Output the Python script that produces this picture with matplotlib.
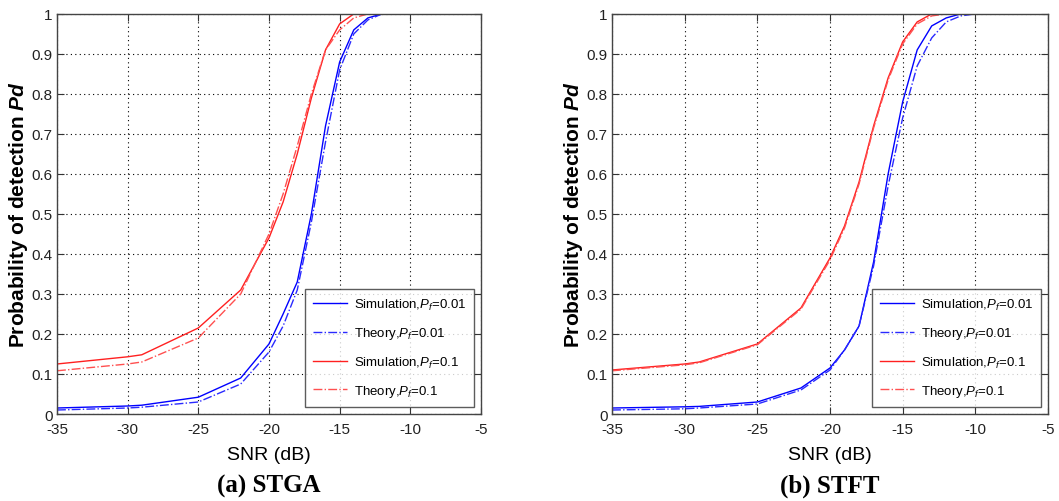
import numpy as np
import matplotlib
matplotlib.use("Agg")
import matplotlib.pyplot as plt

# (a) STGA
snr_a = [-35, -30, -29, -25, -22, -20, -19, -18, -17, -16, -15, -14, -13, -12, -5]
sim01_a = [0.015, 0.02, 0.022, 0.042, 0.09, 0.175, 0.25, 0.33, 0.50, 0.72, 0.88, 0.96, 0.99, 1.0, 1.0]
thy01_a = [0.01, 0.015, 0.017, 0.03, 0.075, 0.155, 0.22, 0.31, 0.48, 0.68, 0.86, 0.95, 0.985, 1.0, 1.0]
sim1_a = [0.125, 0.143, 0.148, 0.215, 0.31, 0.44, 0.53, 0.65, 0.79, 0.91, 0.975, 1.0, 1.0, 1.0, 1.0]
thy1_a = [0.108, 0.125, 0.13, 0.19, 0.30, 0.45, 0.55, 0.67, 0.80, 0.91, 0.96, 0.99, 1.0, 1.0, 1.0]

# (b) STFT
snr_b = [-35, -30, -29, -25, -22, -20, -19, -18, -17, -16, -15, -14, -13, -12, -11, -10, -5]
sim01_b = [0.015, 0.018, 0.019, 0.03, 0.065, 0.115, 0.16, 0.22, 0.38, 0.60, 0.78, 0.91, 0.97, 0.99, 1.0, 1.0, 1.0]
thy01_b = [0.01, 0.013, 0.015, 0.025, 0.06, 0.11, 0.16, 0.22, 0.37, 0.57, 0.74, 0.87, 0.94, 0.98, 0.995, 1.0, 1.0]
sim1_b = [0.11, 0.125, 0.13, 0.175, 0.265, 0.39, 0.47, 0.58, 0.72, 0.84, 0.93, 0.98, 1.0, 1.0, 1.0, 1.0, 1.0]
thy1_b = [0.108, 0.123, 0.128, 0.173, 0.262, 0.385, 0.465, 0.575, 0.715, 0.835, 0.925, 0.975, 0.995, 1.0, 1.0, 1.0, 1.0]

xticks = [-35, -30, -25, -20, -15, -10, -5]
yticks = [0, 0.1, 0.2, 0.3, 0.4, 0.5, 0.6, 0.7, 0.8, 0.9, 1]
ytick_labels = ["0", "0.1", "0.2", "0.3", "0.4", "0.5", "0.6", "0.7", "0.8", "0.9", "1"]
labels = ["Simulation,$P_f$=0.01", "Theory,$P_f$=0.01",
          "Simulation,$P_f$=0.1", "Theory,$P_f$=0.1"]
captions = ["(a) STGA", "(b) STFT"]

plt.rcParams['font.family'] = ['Liberation Sans', 'DejaVu Sans']
plt.rcParams['axes.unicode_minus'] = False
plt.rcParams['mathtext.fontset'] = 'custom'
plt.rcParams['mathtext.it'] = 'Liberation Sans:italic'
plt.rcParams['mathtext.rm'] = 'Liberation Sans'
plt.rcParams['mathtext.bf'] = 'Liberation Sans:bold:italic'

fig = plt.figure(figsize=(10.59, 5.02), dpi=100)
ax_a = fig.add_axes([0.0538, 0.1733, 0.4004, 0.797])
ax_b = fig.add_axes([0.5779, 0.1733, 0.4117, 0.797])

panels = [
    (ax_a, snr_a, sim01_a, thy01_a, sim1_a, thy1_a),
    (ax_b, snr_b, sim01_b, thy01_b, sim1_b, thy1_b),
]

for i, (ax, x, s01, t01, s1, t1) in enumerate(panels):
    ax.plot(x, s01, color='#0000ff', lw=1.0, ls='-', label=labels[0])
    ax.plot(x, t01, color='#2a2aff', lw=1.0, ls='-.', label=labels[1])
    ax.plot(x, s1, color='#ff2020', lw=1.0, ls='-', label=labels[2])
    ax.plot(x, t1, color='#ff5050', lw=1.0, ls='-.', label=labels[3])
    ax.set_xlim(-35, -5)
    ax.set_ylim(0, 1)
    ax.set_xticks(xticks)
    ax.set_yticks(yticks)
    ax.set_yticklabels(ytick_labels)
    ax.grid(True, color='black', ls=(0, (1, 3)), lw=0.8)
    ax.tick_params(direction='in', top=True, right=True, labelsize=11,
                   length=5, colors='#333333', labelcolor='#222222')
    ax.tick_params(axis='x', pad=6)
    ax.tick_params(axis='y', pad=3)
    for sp in ax.spines.values():
        sp.set_color('#444444')
        sp.set_linewidth(1.0)
    ax.set_xlabel("SNR (dB)", fontsize=14, labelpad=7)
    ax.set_ylabel("Probability of detection $\\mathbf{Pd}$", fontsize=15,
                  fontweight='bold', labelpad=1)
    leg = ax.legend(loc='lower right', bbox_to_anchor=(0.984, 0.018), fontsize=9.5,
                    frameon=True, fancybox=False, edgecolor='#333333',
                    handlelength=2.6, labelspacing=1.0, borderpad=0.6,
                    handletextpad=0.5, borderaxespad=0)
    leg.get_frame().set_linewidth(1.0)
    ax.text(0.5, -0.178, captions[i], transform=ax.transAxes, ha='center', va='center',
            fontsize=18, fontweight='bold', family='Liberation Serif')

fig.savefig("out.png", dpi=100)
